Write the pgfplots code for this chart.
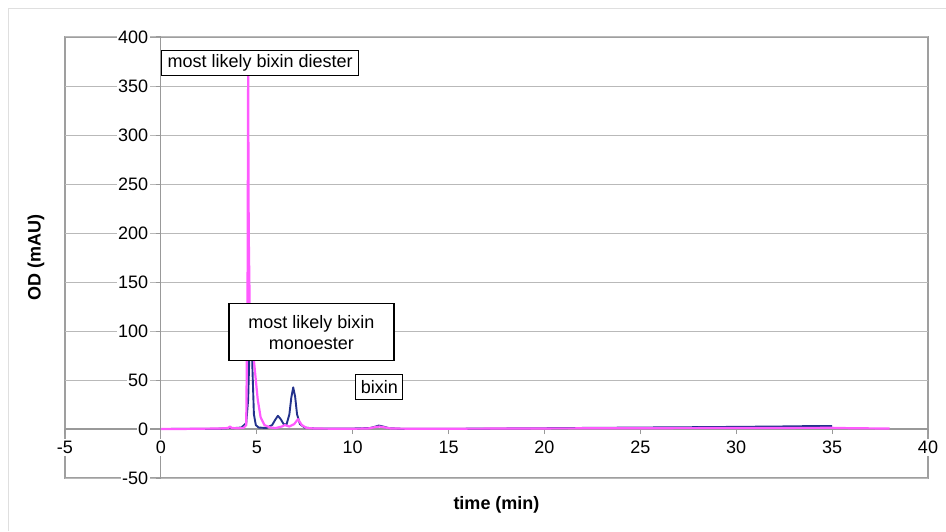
\documentclass[border=0pt]{standalone}
\usepackage{fontspec}
\setmainfont{Liberation Sans}
\usepackage{pgfplots}
\pgfplotsset{compat=1.18}

\definecolor{odpink}{RGB}{255,90,255}
\definecolor{odblue}{RGB}{35,50,140}

\begin{document}
\begin{tikzpicture}
\path[use as bounding box] (-65pt,-53pt) rectangle (881pt,478pt);
\draw[gray!25, line width=1pt] (-56pt,-53pt) -- (-56pt,469pt) -- (881pt,469pt);
\begin{axis}[
    scale only axis, width=863pt, height=441pt,
    at={(0,0)}, anchor=south west,
    axis lines=middle, axis line style={-, gray!80, line width=1.2pt},
    xmin=-5, xmax=40, ymin=-50, ymax=400,
    xtick={-5,0,...,40}, ytick={-50,0,...,400},
    hide obscured x ticks=false, hide obscured y ticks=false,
    tick align=outside, major tick length=5pt,
    tick style={gray!80, line width=1pt},
    ymajorgrids, major grid style={gray!55, line width=1pt},
    font=\fontsize{18}{21}\selectfont,
    /pgf/number format/assume math mode=true,
    xticklabel style={yshift=-5pt, fill=white, inner sep=2pt},
    yticklabel style={xshift=-6pt, fill=white, inner ysep=1pt, inner xsep=1.5pt},
    axis background/.style={draw=gray!75, line width=1.8pt},
    clip=false,
    ]
% blue trace
\addplot[odblue, line width=1.9pt, line join=round] coordinates {
    (0,0) (2,0.2) (3,0.3) (3.5,0.8) (3.6,1.5) (3.7,0.8) (4.2,1.5) (4.45,6)
    (4.55,30) (4.62,80) (4.69,115) (4.76,70) (4.85,15) (4.95,4) (5.1,1.5)
    (5.5,1) (5.8,4) (5.95,9) (6.1,13.5) (6.25,10) (6.4,5) (6.55,4.5) (6.7,15)
    (6.8,32) (6.9,42.5) (7.0,33) (7.1,15) (7.25,5) (7.5,1.5) (8,0.5) (10,0.5)
    (10.9,1) (11.2,2.5) (11.35,3.5) (11.6,2.5) (11.9,0.8) (12.5,0.3) (15,0.2)
    (20,0.8) (25,1.5) (29,2) (30,2.2) (32,2.5) (34,3) (35,3)
};
% pink trace
\addplot[odpink, line width=2.2pt, line join=round] coordinates {
    (0,0) (1,0) (2,0.3) (3,0.5) (3.5,1) (3.6,2.5) (3.7,1) (4.0,0.8) (4.3,1)
    (4.45,4) (4.52,150) (4.55,365) (4.58,200) (4.64,110) (4.75,80) (4.85,70)
    (4.95,50) (5.05,30) (5.2,12) (5.4,4) (5.7,1.5) (6.0,1) (6.3,2.5) (6.47,4)
    (6.7,2.5) (6.95,5) (7.15,10) (7.35,4) (7.6,1) (8,0.5) (9,0.3) (10,0.3)
    (10.8,0.5) (11.2,2) (11.4,2.5) (11.7,1.5) (12,0.5) (13,0.3) (15,0.3)
    (20,0.6) (25,0.8) (30,1) (35,1.2) (36,0.8) (38,0.5)
};
\node[draw=black, line width=1.3pt, fill=white, inner sep=0pt,
      minimum width=197pt, minimum height=25pt] at (axis cs:5.18,373.2)
      {most likely bixin diester};
\node[draw=black, line width=1.3pt, fill=white, inner sep=0pt,
      minimum width=165pt, minimum height=57pt, align=center] at (axis cs:7.85,98.7)
      {most likely bixin\\monoester};
\node[draw=black, line width=1.3pt, fill=white, inner sep=0pt,
      minimum width=47pt, minimum height=25pt] at (axis cs:11.39,43.1)
      {bixin};
\node[font=\fontsize{18}{21}\selectfont\bfseries, rotate=90]
      at (rel axis cs:-0.0336,0.501) {OD (mAU)};
\node[font=\fontsize{18}{21}\selectfont\bfseries]
      at (rel axis cs:0.5,-0.061) {time (min)};
\end{axis}
\end{tikzpicture}
\end{document}
